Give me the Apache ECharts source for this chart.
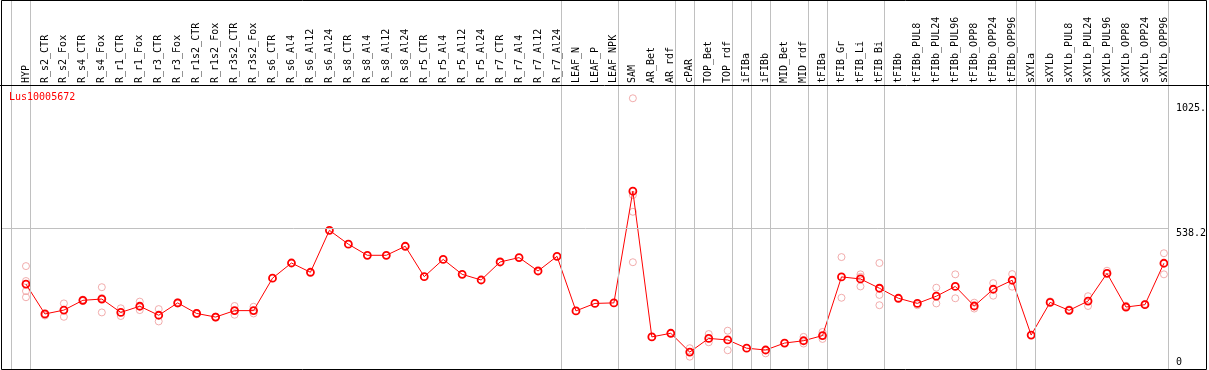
<!DOCTYPE html>
<html><head><meta charset="utf-8">
<script src="https://cdn.jsdelivr.net/npm/echarts@6/dist/echarts.min.js"></script>
<style>html,body{margin:0;padding:0;background:#fff}#c{width:1209px;height:370px}</style>
</head><body><div id="c"></div>
<script>
const geneName = 'Lus10005672';
const categories = ['HYP','R_s2_CTR','R_s2_Fox','R_s4_CTR','R_s4_Fox','R_r1_CTR','R_r1_Fox','R_r3_CTR','R_r3_Fox','R_r1s2_CTR','R_r1s2_Fox','R_r3s2_CTR','R_r3s2_Fox','R_s6_CTR','R_s6_Al4','R_s6_Al12','R_s6_Al24','R_s8_CTR','R_s8_Al4','R_s8_Al12','R_s8_Al24','R_r5_CTR','R_r5_Al4','R_r5_Al12','R_r5_Al24','R_r7_CTR','R_r7_Al4','R_r7_Al12','R_r7_Al24','LEAF_N','LEAF_P','LEAF_NPK','SAM','AR_Bet','AR_rdf','cPAR','TOP_Bet','TOP_rdf','iFIBa','iFIBb','MID_Bet','MID_rdf','tFIBa','tFIB_Gr','tFIB_Li','tFIB_Bi','tFIBb','tFIBb_PUL8','tFIBb_PUL24','tFIBb_PUL96','tFIBb_OPP8','tFIBb_OPP24','tFIBb_OPP96','sXYLa','sXYLb','sXYLb_PUL8','sXYLb_PUL24','sXYLb_PUL96','sXYLb_OPP8','sXYLb_OPP24','sXYLb_OPP96'];
const meanValues = [322,206,221,259,264,212,236,201,249,208,194,219,219,345,404,368,531,477,434,434,469,351,418,360,338,408,425,373,430,218,247,249,683,117,131,58,111,105,73,66,93,102,122,350,342,306,267,247,275,313,237,302,337,124,251,220,256,364,233,242,403];
const replicateValues = [
  [392,334,295,271],[203,200],[247,195],[262,256],[310,212,268],[228,198],[254,221],[225,177],[252,246],[210,205],[196,192],[237,203],[234,208],
  [],[],[],[],[],[],[],[],[],[],[],[],[],[],[],[],[],[],[],
  [1044,668,603,407],[117],[131],[73,40],[128,96],[141,65],[],[53],[],[117,91],[136,109],
  [427,269],[360,350,313],[404,280,240],[],[240],[308,247],[360,267],[250,227],[326,277],[361,312],
  [],[255],[224],[275,237],[374],[238],[245],[442,360]
];
const groupStarts = ['HYP','R_s2_CTR','LEAF_N','SAM','cPAR','TOP_Bet','iFIBa','iFIBb','MID_Bet','tFIBa','tFIB_Gr','tFIBb','sXYLa','sXYLb'];
const yRefValue = 538.2;
const yTickValues = [538.2, 1025];
const yTickLabels = ['538.2', '1025.'];
const yZeroValue = [0];

const PX = 19;                 // pixels per category
const SHIFT = 14.5 / PX;       // separator offset to the left of a category
const X_MIN = -24 / PX;
const X_MAX = X_MIN + 1169 / PX;
const mono = 'DejaVu Sans Mono';
const meanData = meanValues.map((v, i) => [i, v]);
const repData = [];
replicateValues.forEach((arr, i) => arr.forEach(v => repData.push([i, v])));
const vLines = groupStarts.map(n => ({ xAxis: categories.indexOf(n) - SHIFT }));
vLines.push({ xAxis: categories.length - SHIFT });

const chart = echarts.init(document.getElementById('c'), null, { renderer: 'canvas' });
chart.setOption({
  animation: false,
  title: { text: geneName, left: 9, top: 92, padding: 0,
    textStyle: { color: '#ff0000', fontSize: 10, fontFamily: mono, fontWeight: 'normal' } },
  grid: { left: 2, right: 38, top: 0, bottom: 1, containLabel: false },
  xAxis: {
    type: 'value', position: 'top', offset: -85, min: X_MIN, max: X_MAX,
    axisLine: { show: false }, axisTick: { show: false }, splitLine: { show: false },
    axisLabel: {
      customValues: categories.map((c, i) => i),
      formatter: v => categories[Math.round(v)] || '',
      rotate: 90, margin: 2, fontSize: 10, fontFamily: mono, color: '#000'
    }
  },
  yAxis: [
    { type: 'value', position: 'right', min: -7.8, max: 1425.8,
      axisLine: { show: false, onZero: false }, axisTick: { show: false }, splitLine: { show: false },
      axisLabel: { customValues: yTickValues, formatter: v => yTickLabels[yTickValues.indexOf(v)] ?? String(v),
        verticalAlign: 'top', align: 'left', margin: 7, fontSize: 10, fontFamily: mono, color: '#000' } },
    { type: 'value', position: 'right', min: -7.8, max: 1425.8,
      axisLine: { show: false, onZero: false }, axisTick: { show: false }, splitLine: { show: false },
      axisLabel: { customValues: yZeroValue, formatter: v => String(v),
        verticalAlign: 'bottom', align: 'left', margin: 7, fontSize: 10, fontFamily: mono, color: '#000' } }
  ],
  graphic: [
    { type: 'rect', silent: true, z: 100, shape: { x: 1.5, y: 0.5, width: 1205, height: 369 },
      style: { fill: 'none', stroke: '#000', lineWidth: 1 } },
    { type: 'line', silent: true, z: 100, shape: { x1: 0, y1: 85.5, x2: 1209, y2: 85.5 },
      style: { stroke: '#000', lineWidth: 1 } }
  ],
  series: [
    { type: 'scatter', name: 'replicates', data: repData, z: 2,
      symbol: 'circle', symbolSize: 7,
      itemStyle: { color: 'rgba(0,0,0,0)', borderColor: '#ee9999', borderWidth: 1 },
      markLine: { silent: true, symbol: 'none', animation: false, label: { show: false },
        lineStyle: { color: '#c0c0c0', width: 1, type: 'solid' },
        data: vLines.concat([{ yAxis: yRefValue }]) } },
    { type: 'line', name: geneName, data: meanData, z: 3,
      symbol: 'circle', symbolSize: 7, showAllSymbol: true,
      lineStyle: { color: '#ff0000', width: 1 },
      itemStyle: { color: 'rgba(0,0,0,0)', borderColor: '#ff0000', borderWidth: 1.8 } }
  ]
});
</script></body></html>
